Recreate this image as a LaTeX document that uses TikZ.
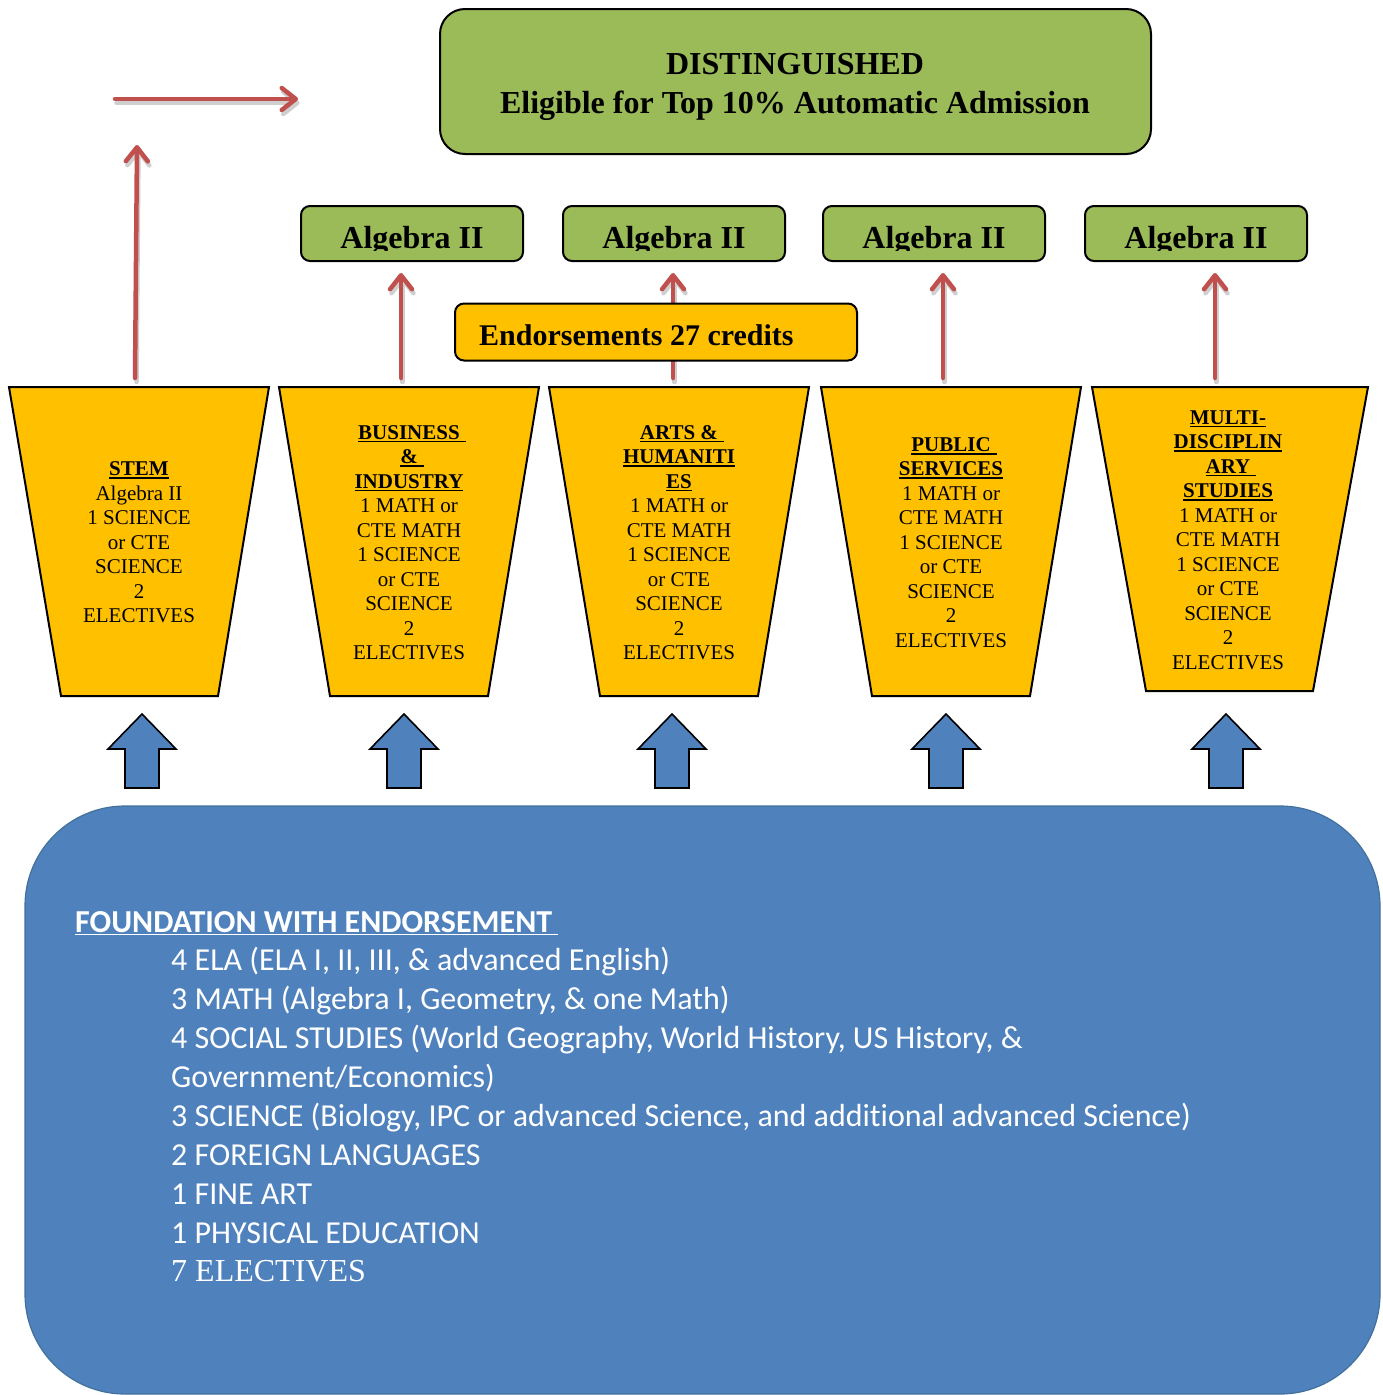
\documentclass[tikz,border=0pt]{standalone}
\usepackage{fontspec}
\setmainfont{Liberation Serif}
\newfontfamily\calfont[Ligatures=NoCommon]{Carlito}
\usetikzlibrary{arrows.meta}
\definecolor{dgreen}{HTML}{9BBB59}
\definecolor{dyellow}{HTML}{FFC000}
\definecolor{dblue}{HTML}{4F81BD}
\definecolor{dblueedge}{HTML}{41719C}
\definecolor{dred}{HTML}{C0504D}
\definecolor{dshadow}{HTML}{CFCFCF}
% underline with optional trailing extension that does not affect centering
\newcommand\myul[2][0pt]{\setbox0\hbox{#2}\rlap{\rule[-3.2pt]{\dimexpr\wd0+#1\relax}{1.6pt}}\box0}
\tikzset{
  greenbox/.style={draw=black, line width=2pt, fill=dgreen, inner sep=0pt},
  yellowbox/.style={draw=black, line width=2pt, fill=dyellow, inner sep=0pt},
  trapshape/.style={draw=black, line width=2pt, fill=dyellow, line join=miter},
  bigtext/.style={anchor=base, inner sep=0pt, font=\bfseries\fontsize{32}{39}\selectfont},
  traptext/.style={align=center, inner sep=0pt, font=\fontsize{21}{24.5}\selectfont},
  redarrow/.style={draw=dred, line width=4.5pt, line cap=round,
    -{Straight Barb[length=14pt,width=22pt,line cap=round,line join=round]}},
  shadowarrow/.style={draw=dshadow, line width=4.5pt, line cap=round,
    -{Straight Barb[length=14pt,width=22pt,line cap=round,line join=round]}},
  blockarrow/.style={draw=black, line width=1.6pt, fill=dblue, line join=miter},
  ftext/.style={anchor=base west, inner sep=0pt, text=white, font=\calfont\fontsize{32}{39}\selectfont},
  uparrow/.pic={\path[blockarrow] (0,0) -- (34,35) -- (17,35) -- (17,74) -- (-17,74) -- (-17,35) -- (-34,35) -- cycle;}
}
\begin{document}
\begin{tikzpicture}[x=1pt,y=-1pt]
\useasboundingbox (0,0) rectangle (1383,1395);

% ---- top box
\node[greenbox, rounded corners=25pt, minimum width=711pt, minimum height=145pt] (dist) at (795.5,81.5) {};
\node[bigtext] (distA) at (795,74) {DISTINGUISHED};
\node[bigtext] (distB) at (795,113) {Eligible for Top 10\% Automatic Admission};

% ---- Algebra II boxes
\node[greenbox, rounded corners=9pt, minimum width=222pt, minimum height=55pt] (alg1) at (412,233.5) {};
\node[greenbox, rounded corners=9pt, minimum width=222pt, minimum height=55pt] (alg2) at (674,233.5) {};
\node[greenbox, rounded corners=9pt, minimum width=222pt, minimum height=55pt] (alg3) at (934,233.5) {};
\node[greenbox, rounded corners=9pt, minimum width=222pt, minimum height=55pt] (alg4) at (1196,233.5) {};
\begin{scope}
\clip (300,200) rectangle (1310,250.5);
\node[bigtext] (alg1t) at (412,248) {Algebra II};
\node[bigtext] (alg2t) at (674,248) {Algebra II};
\node[bigtext] (alg3t) at (934,248) {Algebra II};
\node[bigtext] (alg4t) at (1196,248) {Algebra II};
\end{scope}

% ---- trapezoids
\path[trapshape] (9,387) -- (269,387) -- (218,696) -- (61,696) -- cycle;
\path[trapshape] (279,387) -- (539,387) -- (488,696) -- (330,696) -- cycle;
\path[trapshape] (549,387) -- (809,387) -- (758,696) -- (600,696) -- cycle;
\path[trapshape] (821,387) -- (1081,387) -- (1030,696) -- (872,696) -- cycle;
\path[trapshape] (1092,387) -- (1368,387) -- (1313,691) -- (1146,691) -- cycle;

\coordinate (t1) at (135,378);
\coordinate (t2) at (401,378);
\coordinate (t3) at (673,378);
\coordinate (t4) at (943,378);
\coordinate (t5) at (1215,378);
\coordinate (top1) at (137,145);
\coordinate (h1) at (115,99);
\coordinate (h2) at (298,99);

% ---- red arrows with shadows
\draw[shadowarrow] ([shift={(1.5,4)}]h1) -- ([shift={(1.5,4)}]h2);
\draw[shadowarrow] ([shift={(1.5,4)}]t1) -- ([shift={(1.5,4)}]top1);
\foreach \t/\a in {t2/alg1,t3/alg2,t4/alg3,t5/alg4}{
  \draw[shadowarrow, shorten >=11pt] ([shift={(1.5,4)}]\t) -- ([shift={(1.5,4)}]\t |- \a.south);
}
\draw[redarrow] (h1) -- (h2);
\draw[redarrow] (t1) -- (top1);
\draw[redarrow, shorten >=11pt] (t2) -- (t2 |- alg1.south);
\draw[redarrow, shorten >=11pt] (t3) -- (t3 |- alg2.south);
\draw[redarrow, shorten >=11pt] (t4) -- (t4 |- alg3.south);
\draw[redarrow, shorten >=11pt] (t5) -- (t5 |- alg4.south);

% ---- endorsements box
\node[yellowbox, rounded corners=9pt, minimum width=402pt, minimum height=57pt] (endo) at (656,332) {};
\node[anchor=base west, inner sep=0pt, font=\bfseries\fontsize{30}{36}\selectfont] (endot) at (479,345) {Endorsements 27 credits};

% ---- trapezoid texts
\node[traptext] (stem) at (139,542.5) {\textbf{\myul{STEM}}\\Algebra II\\1 SCIENCE\\or CTE\\SCIENCE\\2\\ELECTIVES};
\node[traptext] (bus) at (409,542.5) {\textbf{\myul[6pt]{BUSINESS}}\\\textbf{\myul[6pt]{\&}}\\\textbf{\myul{INDUSTRY}}\\1 MATH or\\CTE MATH\\1 SCIENCE\\or CTE\\SCIENCE\\2\\ELECTIVES};
\node[traptext] (arts) at (679,542.5) {\textbf{\myul[6pt]{ARTS \&}}\\\textbf{\myul{HUMANITI}}\\\textbf{\myul{ES}}\\1 MATH or\\CTE MATH\\1 SCIENCE\\or CTE\\SCIENCE\\2\\ELECTIVES};
\node[traptext] (pub) at (951,542.5) {\textbf{\myul[6pt]{PUBLIC}}\\\textbf{\myul{SERVICES}}\\1 MATH or\\CTE MATH\\1 SCIENCE\\or CTE\\SCIENCE\\2\\ELECTIVES};
\node[traptext] (multi) at (1228,540) {\textbf{\myul{MULTI-}}\\\textbf{\myul{DISCIPLIN}}\\\textbf{\myul[6pt]{ARY}}\\\textbf{\myul{STUDIES}}\\1 MATH or\\CTE MATH\\1 SCIENCE\\or CTE\\SCIENCE\\2\\ELECTIVES};

% ---- blue block arrows
\pic at (142,714) {uparrow};
\pic at (404,714) {uparrow};
\pic at (672,714) {uparrow};
\pic at (946,714) {uparrow};
\pic at (1226,714) {uparrow};

% ---- foundation
\node[draw=dblueedge, fill=dblue, line width=1.2pt, rounded corners=100pt, minimum width=1355pt, minimum height=588pt, inner sep=0pt] (found) at (702.5,1100) {};
\node[ftext, font=\calfont\bfseries\fontsize{32}{39}\selectfont] (f0) at (75,932) {\color{white}\myul[6pt]{FOUNDATION WITH ENDORSEMENT}};
\node[ftext] (f1) at (171,970) {4 ELA (ELA I, II, III, \& advanced English)};
\node[ftext] (f2) at (171,1009) {3 MATH (Algebra I, Geometry, \& one Math)};
\node[ftext] (f3) at (171,1048) {4 SOCIAL STUDIES (World Geography, World History, US History, \&};
\node[ftext] (f4) at (171,1087) {Government/Economics)};
\node[ftext] (f5) at (171,1126) {3 SCIENCE (Biology, IPC or advanced Science, and additional advanced Science)};
\node[ftext] (f6) at (171,1165) {2 FOREIGN LANGUAGES};
\node[ftext] (f7) at (171,1204) {1 FINE ART};
\node[ftext] (f8) at (171,1243) {1 PHYSICAL EDUCATION};
\node[ftext, font=\fontsize{32}{39}\selectfont] (f9) at (171,1281) {7 ELECTIVES};
\end{tikzpicture}
\end{document}
